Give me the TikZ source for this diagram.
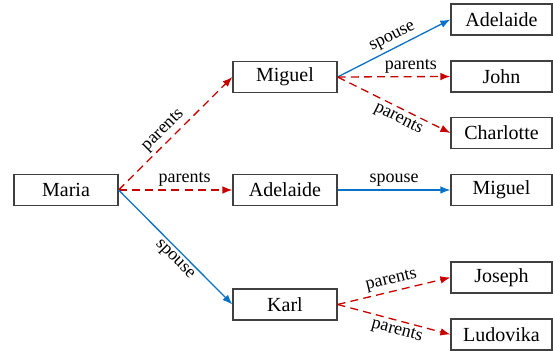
\documentclass[tikz,border=0pt]{standalone}
\usepackage{fontspec}
\setmainfont{Liberation Serif}
\usetikzlibrary{arrows.meta}
\definecolor{boxgray}{HTML}{404040}
\definecolor{parentred}{HTML}{C80000}
\definecolor{spouseblue}{HTML}{0A72C6}

\begin{document}
\begin{tikzpicture}[x=0.5pt, y=-0.5pt,
    person/.style={draw=boxgray, line width=0.6pt, minimum width=52pt,
                   minimum height=15.5pt, inner sep=0pt},
    leaf/.style={person, minimum width=50.5pt},
    parents/.style={draw=parentred, line width=0.65pt, dash pattern=on 4pt off 2.6pt,
                    -{Latex[length=5pt,width=3.8pt]}},
    spouse/.style={draw=spouseblue, line width=0.65pt,
                   -{Latex[length=5pt,width=3.8pt]}},
    rel/.style={font=\small, sloped, inner sep=1.5pt}]
  \useasboundingbox (0,0) rectangle (553,351);

  % left and middle column
  \node[person] (maria) at (66,190) {Maria};
  \node[person] (miguel) at (285,77) {Miguel};
  \node[person] (adelaide) at (285,190) {Adelaide};
  \node[person] (karl) at (285,304.5) {Karl};

  % right column
  \node[leaf] (adelaide2) at (501.5,19.5) {Adelaide};
  \node[leaf] (john) at (501.5,76.5) {John};
  \node[leaf] (charlotte) at (501.5,133) {Charlotte};
  \node[leaf] (miguel2) at (501.5,190) {Miguel};
  \node[leaf] (joseph) at (501.5,277.5) {Joseph};
  \node[leaf] (ludovika) at (501.5,334.5) {Ludovika};

  \draw[parents] (maria.east) -- node[rel, above, pos=0.46] {parents} (miguel.west);
  \draw[parents] (maria.east) -- node[rel, above, pos=0.58] {parents} (adelaide.west);
  \draw[spouse] (maria.east) -- node[rel, below, pos=0.55] {spouse} (karl.west);

  \draw[spouse] (miguel.east) -- node[rel, above, pos=0.53] {spouse} (adelaide2.west);
  \draw[parents] (miguel.east) -- node[rel, above, pos=0.65] {parents} (john.west);
  \draw[parents] (miguel.east) -- node[rel, below, pos=0.58] {parents} (charlotte.west);

  \draw[spouse] (adelaide.east) -- node[rel, above] {spouse} (miguel2.west);

  \draw[parents] (karl.east) -- node[rel, above] {parents} (joseph.west);
  \draw[parents] (karl.east) -- node[rel, below, pos=0.55] {parents} (ludovika.west);
\end{tikzpicture}
\end{document}
